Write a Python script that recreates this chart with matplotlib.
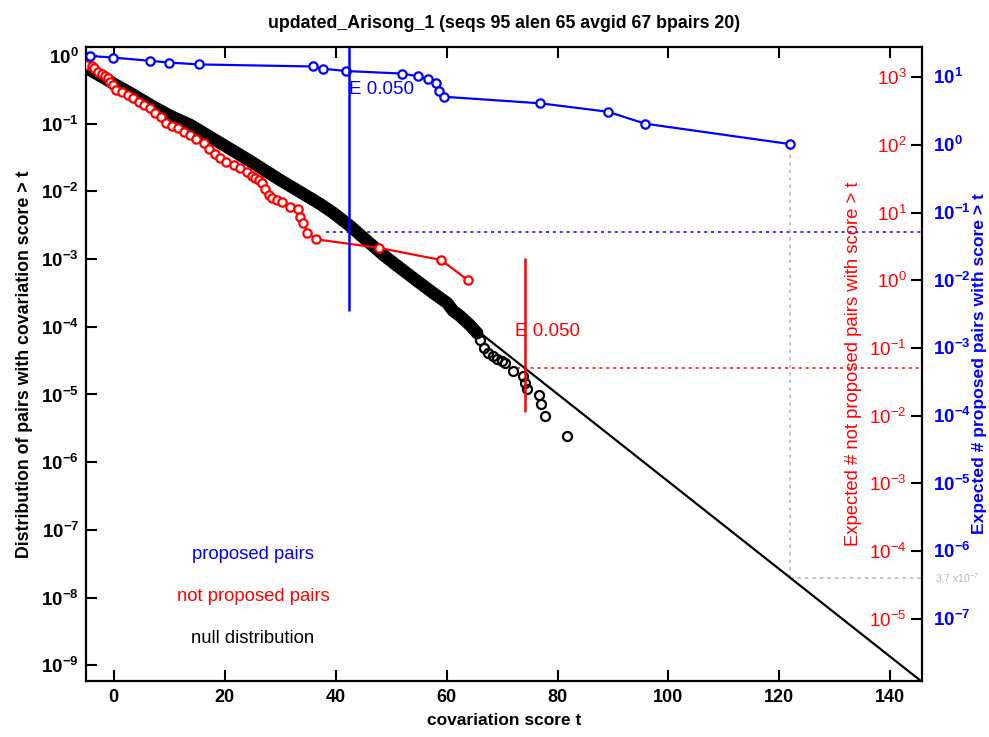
import matplotlib
matplotlib.use('Agg')
import matplotlib.pyplot as plt
from matplotlib.ticker import NullLocator

plt.rcParams['font.family'] = ['Liberation Sans', 'DejaVu Sans']
plt.rcParams['mathtext.default'] = 'regular'

# scale factors of the two right axes (number of pairs)
n_not_proposed = 2060
n_proposed = 20
e_cut = 0.05

# proposed pairs (survival)
prop_x = [-4.3, -0.2, 6.5, 10.0, 15.4, 36.0, 37.7, 41.8, 52.0, 54.9, 56.6, 58.1, 58.7, 59.5, 76.9, 89.1, 95.8, 121.9]
prop_y = [1.0, 0.95, 0.85, 0.8, 0.75, 0.7, 0.65, 0.6, 0.55, 0.5, 0.45, 0.4, 0.3, 0.25, 0.2, 0.15, 0.1, 0.05]

# not proposed pairs (survival)
notp_x = [-4.9, -4.0, -3.5, -2.9, -2.2, -1.6, -1.1, -0.6, -0.2, 0.4, 1.5, 2.5, 3.5, 4.5, 5.5,
          6.5, 7.5, 8.5, 9.4, 10.5, 11.5, 12.7, 13.8, 14.8, 16.2, 17.2, 18.2, 19.2, 20.3, 21.6,
          22.8, 24.0, 25.0, 25.5, 26.1, 26.7, 27.3, 27.9, 28.6, 29.4, 30.3, 31.8, 33.3, 33.6,
          34.2, 34.9, 36.5, 47.9, 59.0, 63.9]
notp_y = [0.736, 0.70, 0.66, 0.586, 0.55, 0.50, 0.469, 0.42, 0.373, 0.315, 0.29, 0.265, 0.24,
          0.21, 0.189, 0.17, 0.145, 0.127, 0.1014, 0.093, 0.085, 0.0762, 0.0681, 0.060, 0.0513,
          0.042, 0.036, 0.0308, 0.027, 0.0245, 0.022, 0.0195, 0.017, 0.0156, 0.0145, 0.0132,
          0.011, 0.00885, 0.0080, 0.00746, 0.00705, 0.00582, 0.00544, 0.00423, 0.00338, 0.00245,
          0.00196, 0.00146, 0.00097, 0.000485]

# null distribution, dense part
null_x = [-4.9, -2.4, 0.1, 3.0, 6.6, 10.2, 13.8, 19.2, 24.6, 30.0, 33.6, 37.2, 39.6, 42.6,
          45.7, 48.6, 51.6, 54.7, 57.6, 60.1, 61.2, 62.4, 64.2, 65.5]
null_y = [0.665, 0.507, 0.385, 0.284, 0.189, 0.130, 0.0957, 0.0519, 0.0281, 0.0147, 0.0098,
          0.00652, 0.00480, 0.00308, 0.00185, 0.00115, 0.00074, 0.000475, 0.000315, 0.000225,
          0.000171, 0.000145, 0.000106, 0.0000809]
# null distribution, sparse tail
tail_x = [66.0, 66.8, 67.4, 68.4, 69.1, 69.9, 70.6, 72.0, 73.8, 74.1, 74.5, 76.6, 77.0, 77.8, 81.7]
tail_y = [6.4e-5, 4.8e-5, 4.1e-5, 3.7e-5, 3.4e-5, 3.1e-5, 2.9e-5, 2.2e-5, 1.9e-5, 1.46e-5,
          1.2e-5, 9.7e-6, 7.2e-6, 4.8e-6, 2.4e-6]

# exponential fit of the null tail
fit_x = [60.0, 145.7]
fit_y = [2.0e-4, 5.7e-10]

# E-value cut positions
e_prop_x = 42.4
e_notp_x = 74.1
cross_x = 121.9
cross_y = 1.97e-8

xlo, xhi = -5, 145.7
ylo, yhi = 5.86e-10, 1.358

fig = plt.figure(figsize=(9.89, 7.37), dpi=100)
ax = fig.add_axes([86 / 989, 56 / 737, 836 / 989, 634 / 737])
ax.set_yscale('log')
ax.set_xlim(xlo, xhi)
ax.set_ylim(ylo, yhi)

# null
ax.plot(null_x, null_y, '-', color='black', lw=9, solid_capstyle='round', zorder=2)
ax.plot(null_x + tail_x, null_y + tail_y, 'o', color='black', ms=6.5, mew=1.6, mfc='none', zorder=2)
ax.plot(fit_x, fit_y, '-', color='black', lw=1.6, zorder=2)

# not proposed / proposed
ax.plot(notp_x, notp_y, '-o', color='red', lw=1.6, ms=6, mew=1.6, mfc='white', zorder=3)
ax.plot(prop_x, prop_y, '-o', color='blue', lw=1.6, ms=6, mew=1.6, mfc='white', zorder=4)

# E-value markers
ax.vlines(e_prop_x, 1.71e-4, yhi, colors='blue', lw=1.8, zorder=5)
ax.vlines(e_notp_x, 5.46e-6, 1.03e-3, colors='red', lw=1.8, zorder=5)
ax.hlines(e_cut / n_proposed, 38.3, xhi, colors='blue', lw=1.1, linestyles=(0, (2, 2.5)), zorder=1)
ax.hlines(e_cut / n_not_proposed, 71.4, xhi, colors='red', lw=1.1, linestyles=(0, (2, 2.5)), zorder=1)
ax.vlines(cross_x, cross_y, prop_y[-1], colors='#b8b8b8', lw=1.2, linestyles=(0, (2, 2.5)), zorder=1)
ax.hlines(cross_y, cross_x, xhi, colors='#b8b8b8', lw=1.2, linestyles=(0, (2, 2.5)), zorder=1)

ax.text(e_prop_x, 0.315, 'E 0.050', color='blue', fontsize=13.5, ha='left', va='center')
ax.text(72.3, 8.4e-5, 'E 0.050', color='red', fontsize=13.5, ha='left', va='center')

# legend-like labels
ax.text(0.1998, 0.2003, 'proposed pairs', color='blue', fontsize=13.3, ha='center', va='center', transform=ax.transAxes)
ax.text(0.1998, 0.1325, 'not proposed pairs', color='red', fontsize=13.3, ha='center', va='center', transform=ax.transAxes)
ax.text(0.1998, 0.0678, 'null distribution', color='black', fontsize=13.3, ha='center', va='center', transform=ax.transAxes)

ax.text(1.0155, 0.163, '3.7 x10$^{-7}$', color='#b8b8b8', fontsize=7.5, ha='left', va='center', transform=ax.transAxes)

# axes styling
for s in ax.spines.values():
    s.set_linewidth(1.6)
xt = list(range(0, 141, 20))
ax.set_xticks(xt, [str(v) for v in xt], fontweight='bold', fontsize=13)
ye = list(range(-9, 1))
ax.set_yticks([10.0 ** e for e in ye], ['$10^{%d}$' % e for e in ye], fontweight='bold', fontsize=13.5)
ax.yaxis.set_minor_locator(NullLocator())
ax.tick_params(axis='both', which='major', direction='in', length=8, width=1.5)
ax.tick_params(axis='x', top=True, pad=6)
ax.tick_params(axis='y', right=False, pad=5)

ax.set_title('updated_Arisong_1 (seqs 95 alen 65 avgid 67 bpairs 20)', fontsize=12.8, fontweight='bold', pad=14)
ax.set_xlabel('covariation score t', fontsize=12.5, fontweight='bold', labelpad=5)
ax.set_ylabel('Distribution of pairs with covariation score > t', fontsize=12.8, fontweight='bold', labelpad=6)

# red right axis (inside)
ax2 = ax.twinx()
ax2.set_yscale('log')
ax2.set_ylim(ylo * n_not_proposed, yhi * n_not_proposed)
re = list(range(-5, 4))
ax2.set_yticks([10.0 ** e for e in re], ['$10^{%d}$' % e for e in re], color='red', fontsize=13.5, ha='right')
ax2.yaxis.set_minor_locator(NullLocator())
ax2.tick_params(axis='y', which='major', direction='in', length=8, width=1.5, pad=-11)
for s in ax2.spines.values():
    s.set_visible(False)

# blue right axis (outside)
ax3 = ax.twinx()
ax3.set_yscale('log')
ax3.set_ylim(ylo * n_proposed, yhi * n_proposed)
be = list(range(-7, 2))
ax3.set_yticks([10.0 ** e for e in be], ['$10^{%d}$' % e for e in be], color='blue', fontsize=13.5, fontweight='bold')
ax3.yaxis.set_minor_locator(NullLocator())
ax3.tick_params(axis='y', which='major', length=0, pad=8)
for s in ax3.spines.values():
    s.set_visible(False)

ax.text(0.9175, 0.5, 'Expected # not proposed pairs with score > t', color='red', fontsize=13.3,
        rotation=90, ha='center', va='center', transform=ax.transAxes)
ax.text(1.0685, 0.5, 'Expected # proposed pairs with score > t', color='blue', fontsize=12.6,
        fontweight='bold', rotation=90, ha='center', va='center', transform=ax.transAxes)

fig.savefig('out.png', dpi=100)
